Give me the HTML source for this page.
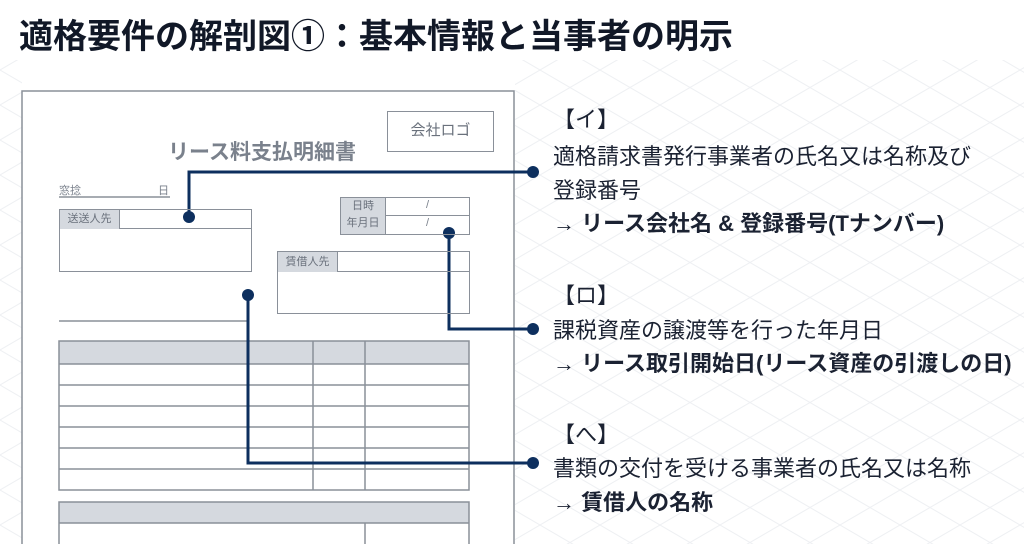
<!DOCTYPE html>
<html><head><meta charset="utf-8"><style>
body{margin:0;width:1024px;height:544px;overflow:hidden;background:#fff;position:relative;font-family:"Liberation Sans","Noto Sans CJK JP",sans-serif;color:#1b2232}
.t{position:absolute;white-space:nowrap}
.r{font-size:22px;left:553px}
.b{font-weight:bold}
.g{color:#7a818c}
.box{position:absolute;border:1.5px solid #8a9099;box-sizing:border-box}
.lab{position:absolute;background:#d5d9df;border-right:1.5px solid #8a9099;color:#6a717c;font-size:11px;text-align:center;box-sizing:border-box}
</style></head><body>
<svg width="1024" height="544" style="position:absolute;left:0;top:0">
<defs><pattern id="p" width="60" height="35" patternUnits="userSpaceOnUse"><path d="M0 0L60 35M60 0L0 35" stroke="#eef0f3" stroke-width="1"/></pattern></defs>
<rect x="515" y="60" width="509" height="484" fill="url(#p)"/>
<rect x="0" y="60" width="22" height="484" fill="url(#p)"/>
<rect x="22" y="91" width="492" height="460" fill="#fff" stroke="#8a9099" stroke-width="1.5"/>
<line x1="59" y1="197" x2="170" y2="197" stroke="#8a9099" stroke-width="1.5"/>
<line x1="59" y1="321" x2="247" y2="321" stroke="#8a9099" stroke-width="1.5"/>
<rect x="59" y="341" width="410" height="23" fill="#d5d9df"/>
<g stroke="#8a9099" stroke-width="1.5" fill="none">
<rect x="59" y="341" width="410" height="149"/>
<line x1="59" y1="364" x2="469" y2="364"/><line x1="59" y1="385" x2="469" y2="385"/><line x1="59" y1="406" x2="469" y2="406"/><line x1="59" y1="427" x2="469" y2="427"/><line x1="59" y1="448" x2="469" y2="448"/><line x1="59" y1="469" x2="469" y2="469"/>
<line x1="313" y1="341" x2="313" y2="490"/><line x1="365" y1="341" x2="365" y2="490"/>
</g>
<rect x="59" y="502" width="410" height="21" fill="#d5d9df"/>
<g stroke="#8a9099" stroke-width="1.5" fill="none">
<rect x="59" y="502" width="410" height="60"/><line x1="59" y1="523" x2="469" y2="523"/><line x1="365" y1="523" x2="365" y2="560"/>
</g>
<g stroke="#0d2f5e" stroke-width="3" fill="none">
<polyline points="189,217 189,172 533,172"/>
<polyline points="449,233 449,329 533,329"/>
<polyline points="248,295 248,463 533,463"/>
</g>
<g fill="#0d2f5e">
<circle cx="189" cy="217" r="6"/><circle cx="533" cy="172" r="6"/>
<circle cx="449" cy="233" r="6"/><circle cx="533" cy="329" r="6"/>
<circle cx="248" cy="295" r="6"/><circle cx="533" cy="463" r="6"/>
</g>
</svg>
<div class="t b" style="left:19px;top:9px;font-size:34px;color:#111827">適格要件の解剖図①：基本情報と当事者の明示</div>
<div class="box" style="left:387px;top:111px;width:107px;height:41px;font-size:15px;color:#6a717c;text-align:center;line-height:38px">会社ロゴ</div>
<div class="t b g" style="left:168px;top:136px;font-size:21px">リース料支払明細書</div>
<div class="t g" style="left:59px;top:182px;font-size:11px">窓捻</div>
<div class="t g" style="left:158px;top:182px;font-size:11px">日</div>
<div class="box" style="left:59px;top:209px;width:193px;height:63px">
<div style="position:absolute;left:0;top:0;width:100%;height:19px;border-bottom:1.5px solid #8a9099;box-sizing:border-box"></div>
<div class="lab" style="left:0;top:0;width:60px;height:19px;line-height:19px">送送人先</div></div>
<div class="box" style="left:340px;top:197px;width:130px;height:38px">
<div style="position:absolute;left:0;top:17px;width:100%;border-top:1.5px solid #8a9099"></div>
<div class="lab" style="left:0;top:0;width:45px;height:36px;line-height:17px">日時<br>年月日</div>
<div class="t g" style="left:85px;top:1px;font-size:11px">/</div><div class="t g" style="left:85px;top:19px;font-size:11px">/</div></div>
<div class="box" style="left:277px;top:251px;width:193px;height:63px">
<div style="position:absolute;left:0;top:0;width:100%;height:20px;border-bottom:1.5px solid #8a9099;box-sizing:border-box"></div>
<div class="lab" style="left:0;top:0;width:60px;height:20px;line-height:20px">賃借人先</div></div>

<div class="t r" style="top:102px">【イ】</div>
<div class="t r" style="top:139px">適格請求書発行事業者の氏名又は名称及び</div>
<div class="t r" style="top:173px">登録番号</div>
<div class="t r b" style="top:206px">→ リース会社名 &amp; 登録番号(Tナンバー)</div>
<div class="t r" style="top:278px">【ロ】</div>
<div class="t r" style="top:313px">課税資産の譲渡等を行った年月日</div>
<div class="t r b" style="top:346px">→ リース取引開始日(リース資産の引渡しの日)</div>
<div class="t r" style="top:417px">【へ】</div>
<div class="t r" style="top:451px">書類の交付を受ける事業者の氏名又は名称</div>
<div class="t r b" style="top:485px">→ 賃借人の名称</div>
</body></html>
